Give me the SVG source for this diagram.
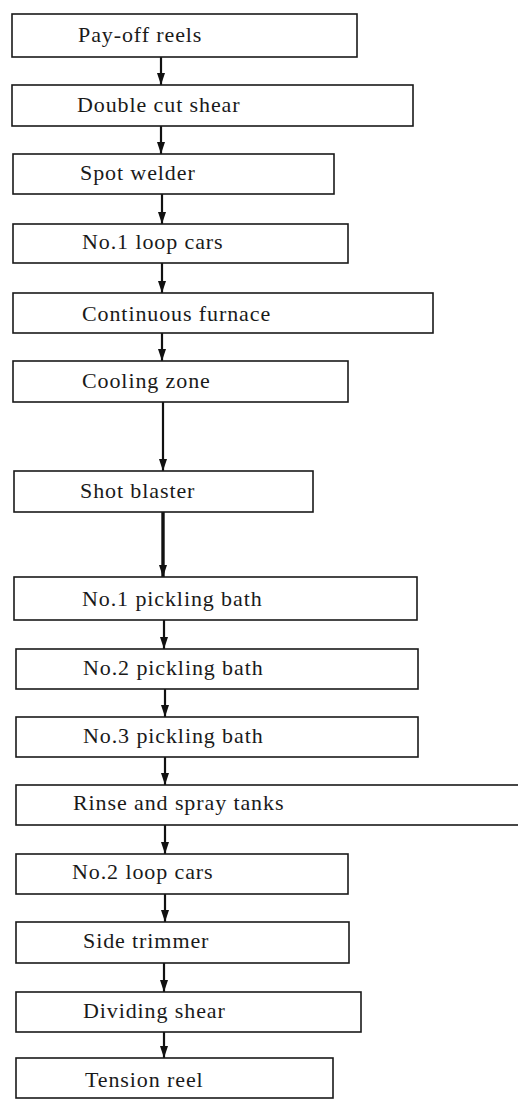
<svg xmlns="http://www.w3.org/2000/svg" width="518" height="1100" viewBox="0 0 518 1100">
<style>
.box{fill:#fff;stroke:#1a1a1a;stroke-width:1.6}
.lbl{font-family:"Liberation Serif","Times New Roman",serif;font-size:22px;letter-spacing:0.9px;fill:#1a1a1a}
.conn{stroke:#111;stroke-width:2.2;fill:none}
.thick{stroke-width:3.4}
</style>
<defs>
<marker id="ah" markerUnits="userSpaceOnUse" markerWidth="12" markerHeight="8" refX="12" refY="4" orient="auto">
<path d="M0,0 L12,4 L0,8 z" fill="#111"/>
</marker>
</defs>
<rect width="518" height="1100" fill="#fff"/>
<g id="connectors">
<line class="conn" x1="161" y1="57" x2="161" y2="85" marker-end="url(#ah)"/>
<line class="conn" x1="161" y1="126" x2="161" y2="154" marker-end="url(#ah)"/>
<line class="conn" x1="162" y1="194" x2="162" y2="224" marker-end="url(#ah)"/>
<line class="conn" x1="162" y1="263" x2="162" y2="293" marker-end="url(#ah)"/>
<line class="conn" x1="162" y1="333" x2="162" y2="361" marker-end="url(#ah)"/>
<line class="conn" x1="163" y1="402" x2="163" y2="471" marker-end="url(#ah)"/>
<line class="conn thick" x1="163" y1="512" x2="163" y2="577" marker-end="url(#ah)"/>
<line class="conn" x1="164" y1="620" x2="164" y2="649" marker-end="url(#ah)"/>
<line class="conn" x1="165" y1="689" x2="165" y2="717" marker-end="url(#ah)"/>
<line class="conn" x1="165" y1="757" x2="165" y2="785" marker-end="url(#ah)"/>
<line class="conn" x1="165" y1="825" x2="165" y2="854" marker-end="url(#ah)"/>
<line class="conn" x1="165" y1="894" x2="165" y2="922" marker-end="url(#ah)"/>
<line class="conn" x1="164" y1="963" x2="164" y2="992" marker-end="url(#ah)"/>
<line class="conn" x1="164" y1="1032" x2="164" y2="1058" marker-end="url(#ah)"/>
</g>
<g id="n1"><rect class="box" x="12" y="14" width="345" height="43"/><text class="lbl" x="78" y="42">Pay-off reels</text></g>
<g id="n2"><rect class="box" x="12" y="85" width="401" height="41"/><text class="lbl" x="77" y="112">Double cut shear</text></g>
<g id="n3"><rect class="box" x="13" y="154" width="321" height="40"/><text class="lbl" x="80" y="180">Spot welder</text></g>
<g id="n4"><rect class="box" x="13" y="224" width="335" height="39"/><text class="lbl" x="82" y="249">No.1 loop cars</text></g>
<g id="n5"><rect class="box" x="13" y="293" width="420" height="40"/><text class="lbl" x="82" y="321">Continuous furnace</text></g>
<g id="n6"><rect class="box" x="13" y="361" width="335" height="41"/><text class="lbl" x="82" y="388">Cooling zone</text></g>
<g id="n7"><rect class="box" x="14" y="471" width="299" height="41"/><text class="lbl" x="80" y="498">Shot blaster</text></g>
<g id="n8"><rect class="box" x="14" y="577" width="403" height="43"/><text class="lbl" x="82" y="606">No.1 pickling bath</text></g>
<g id="n9"><rect class="box" x="16" y="649" width="402" height="40"/><text class="lbl" x="83" y="675">No.2 pickling bath</text></g>
<g id="n10"><rect class="box" x="16" y="717" width="402" height="40"/><text class="lbl" x="83" y="743">No.3 pickling bath</text></g>
<g id="n11"><rect class="box" x="16" y="785" width="510" height="40"/><text class="lbl" x="73" y="810">Rinse and spray tanks</text></g>
<g id="n12"><rect class="box" x="16" y="854" width="332" height="40"/><text class="lbl" x="72" y="879">No.2 loop cars</text></g>
<g id="n13"><rect class="box" x="16" y="922" width="333" height="41"/><text class="lbl" x="83" y="948">Side trimmer</text></g>
<g id="n14"><rect class="box" x="16" y="992" width="345" height="40"/><text class="lbl" x="83" y="1018">Dividing shear</text></g>
<g id="n15"><rect class="box" x="16" y="1058" width="317" height="40"/><text class="lbl" x="85" y="1087">Tension reel</text></g>
</svg>
